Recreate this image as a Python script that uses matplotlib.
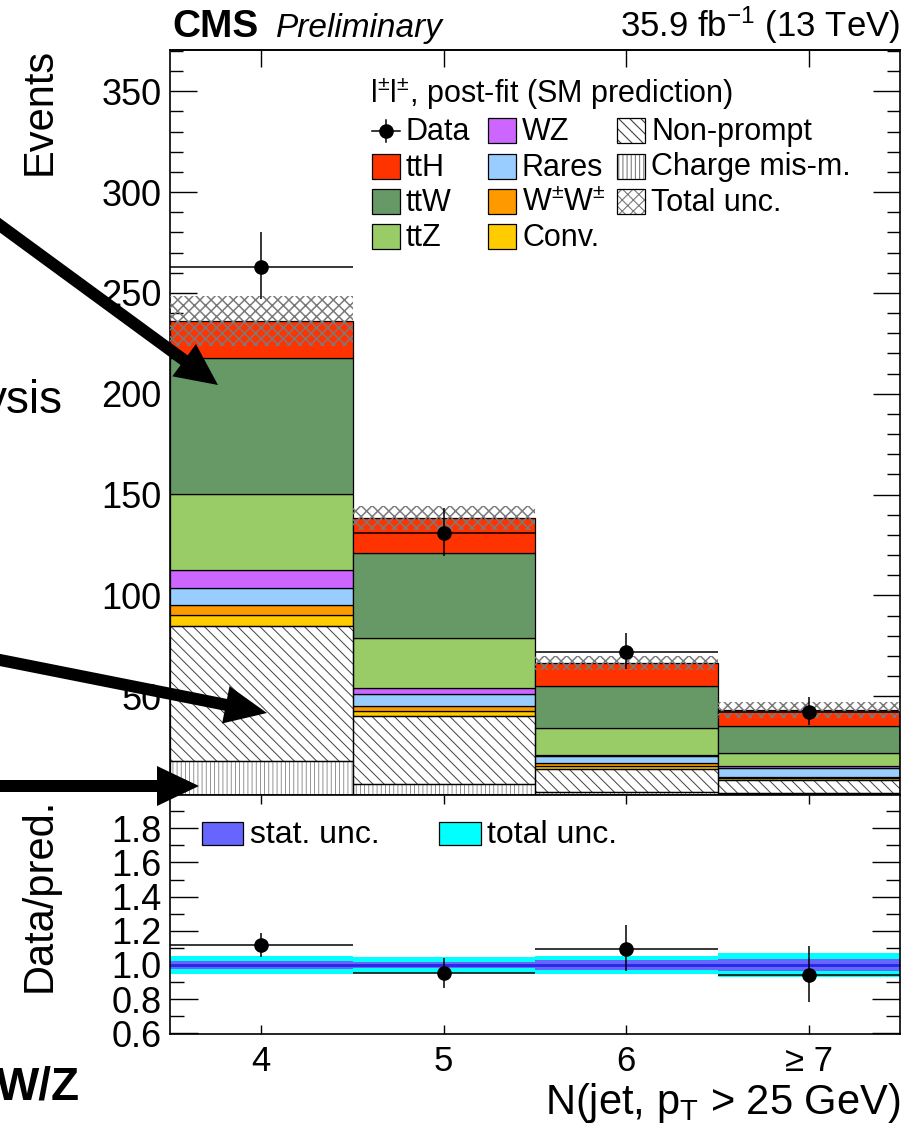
import numpy as np
import matplotlib
matplotlib.use('Agg')
import matplotlib.pyplot as plt
from matplotlib.patches import Polygon, Rectangle
from matplotlib.lines import Line2D
from matplotlib.ticker import MultipleLocator, NullLocator, FormatStrFormatter

plt.rcParams['font.family'] = ['Liberation Sans', 'DejaVu Sans']
plt.rcParams['mathtext.fontset'] = 'custom'
plt.rcParams['mathtext.rm'] = 'Liberation Sans'
plt.rcParams['mathtext.it'] = 'Liberation Sans:italic'
plt.rcParams['mathtext.bf'] = 'Liberation Sans:bold'
plt.rcParams['hatch.linewidth'] = 0.8

# ---------------- data ----------------
bin_edges = [3.5, 4.5, 5.5, 6.5, 7.5]
bin_centers = [4, 5, 6, 7]
tick_labels = ['4', '5', '6', '\u2265 7']

charge_misid = [18.1, 6.5, 2.7, 1.9]
nonprompt = [66.8, 33.7, 11.2, 6.6]
conv = [5.3, 2.7, 1.5, 0.9]
wpmwpm = [4.9, 2.4, 1.4, 0.7]
rares = [8.5, 5.7, 3.6, 4.5]
wz = [9.0, 3.0, 0.5, 0.6]
ttz = [37.6, 24.8, 13.5, 6.5]
ttw = [67.5, 42.1, 20.9, 13.6]
tth = [18.5, 17.4, 11.1, 7.9]
total_unc = [12.5, 5.8, 3.3, 3.8]

data = [263, 131, 72, 42]
data_err_up = [17.2, 12.5, 9.5, 7.5]
data_err_down = [16.2, 11.4, 8.5, 6.5]

ratio = [1.117, 0.951, 1.092, 0.939]
ratio_err_up = [0.073, 0.090, 0.143, 0.170]
ratio_err_down = [0.068, 0.083, 0.128, 0.155]
ratio_stat_unc = [0.022, 0.018, 0.027, 0.035]
ratio_total_unc = [0.054, 0.045, 0.050, 0.068]

# ---------------- figure ----------------
W, H = 917, 1133
fig = plt.figure(figsize=(W / 100, H / 100), dpi=100)


def fx(x):
    return x / W


def fy(y):
    return 1 - y / H


ax = fig.add_axes([fx(170), fy(795), fx(900) - fx(170), fy(50) - fy(795)])
axr = fig.add_axes([fx(170), fy(1034), fx(900) - fx(170), fy(795) - fy(1034)])

centers = np.array(bin_centers, float)
width = bin_edges[1] - bin_edges[0]


def set_hlw(patches, lw):
    for p in patches:
        try:
            p.set_hatch_linewidth(lw)
        except Exception:
            pass


# stack (bottom to top)
bottom = np.zeros(4)
# charge mis-ID (vertical hatch)
b = ax.bar(centers, charge_misid, width=width, bottom=bottom, color='white',
           hatch='||||', edgecolor='#808080', linewidth=0, zorder=2)
set_hlw(b, 0.6)
ax.bar(centers, charge_misid, width=width, bottom=bottom, fill=False,
       edgecolor='black', linewidth=0.9, zorder=2.1)
bottom += np.array(charge_misid)
# non-prompt (diagonal hatch)
b = ax.bar(centers, nonprompt, width=width, bottom=bottom, color='white',
           hatch='\\\\\\', edgecolor='#404040', linewidth=0, zorder=2)
set_hlw(b, 0.7)
ax.bar(centers, nonprompt, width=width, bottom=bottom, fill=False,
       edgecolor='black', linewidth=0.9, zorder=2.1)
bottom += np.array(nonprompt)

for vals, col in [(conv, '#ffcc00'), (wpmwpm, '#ff9900'), (rares, '#99ccff'),
                  (wz, '#cc66ff'), (ttz, '#99cc66'), (ttw, '#669966'),
                  (tth, '#ff3300')]:
    ax.bar(centers, vals, width=width, bottom=bottom, color=col,
           edgecolor='black', linewidth=0.9, zorder=2)
    bottom += np.array(vals)

total = bottom.copy()
unc = np.array(total_unc)
b = ax.bar(centers, 2 * unc, width=width, bottom=total - unc, color='none',
           hatch='xxx', edgecolor='#7a7a7a', linewidth=0, zorder=3)
set_hlw(b, 1.1)

ax.errorbar(centers, data, xerr=width / 2, yerr=[data_err_down, data_err_up],
            fmt='o', color='black', ms=9.5, elinewidth=1.1, capsize=0, zorder=5)

ax.set_xlim(bin_edges[0], bin_edges[-1])
ax.set_ylim(1.0, 370.5)
ax.yaxis.set_major_locator(MultipleLocator(50))
ax.yaxis.set_minor_locator(MultipleLocator(10))
ax.set_xticks(centers)
ax.xaxis.set_minor_locator(NullLocator())
ax.tick_params(axis='y', which='major', direction='in', left=True, right=True,
               length=19.4, width=1.0, labelsize=26, pad=6)
ax.tick_params(axis='y', which='minor', direction='in', left=True, right=True,
               length=9.4, width=1.0)
ax.tick_params(axis='x', which='major', direction='in', bottom=True, top=False,
               length=18.7, width=1.0, labelbottom=False)
sec = ax.secondary_xaxis('top')
sec.set_xticks(centers)
sec.xaxis.set_minor_locator(NullLocator())
sec.tick_params(axis='x', direction='in', length=12.2, width=1.0, labeltop=False)
for s in list(ax.spines.values()) + list(sec.spines.values()):
    s.set_linewidth(1.2)

# ---------------- ratio panel ----------------
rt = np.array(ratio_total_unc)
rs = np.array(ratio_stat_unc)
axr.bar(centers, 2 * rt, width=width, bottom=1 - rt, color='#00ffff', linewidth=0, zorder=2)
axr.bar(centers, 2 * rs, width=width, bottom=1 - rs, color='#6666ff', linewidth=0, zorder=2.1)
axr.hlines(1.0, bin_edges[0], bin_edges[-1], color='#2626e6', linewidth=2.0, zorder=2.2)
axr.errorbar(centers, ratio, xerr=width / 2, yerr=[ratio_err_down, ratio_err_up],
             fmt='o', color='black', ms=9.5, elinewidth=1.1, capsize=0, zorder=5)
axr.set_xlim(bin_edges[0], bin_edges[-1])
axr.set_ylim(0.596, 1.995)
axr.yaxis.set_major_locator(MultipleLocator(0.2))
axr.yaxis.set_minor_locator(MultipleLocator(0.1))
axr.yaxis.set_major_formatter(FormatStrFormatter('%.1f'))
axr.set_xticks(centers)
axr.set_xticklabels(tick_labels)
axr.xaxis.set_minor_locator(NullLocator())
axr.tick_params(axis='y', which='major', direction='in', left=True, right=True,
                length=20, width=1.0, labelsize=26, pad=6)
axr.tick_params(axis='y', which='minor', direction='in', left=True, right=True,
                length=10, width=1.0)
axr.tick_params(axis='x', which='major', direction='in', bottom=True, top=True,
                length=6.5, width=1.0, labelsize=25, pad=8)
for s in axr.spines.values():
    s.set_linewidth(1.2)

# ---------------- texts ----------------
fig.text(fx(172), fy(37), 'CMS', weight='bold', size=28, ha='left', va='baseline')
fig.text(fx(276), fy(37), 'Preliminary', style='italic', size=24, ha='left', va='baseline')
fig.text(fx(900), fy(37), r'35.9 fb$^{\mathrm{-1}}$ (13 TeV)', size=25, ha='right', va='baseline')

fig.text(fx(19.5), fy(48), 'Events', rotation=90, size=30, ha='left', va='top')
fig.text(fx(19.5), fy(798), 'Data/pred.', rotation=90, size=30, ha='left', va='top')
fig.text(fx(900), fy(1114), r'N(jet, p$_{\mathrm{T}}$ > 25 GeV)', size=30, ha='right', va='baseline')

# ---------------- legend (main) ----------------
fig.text(fx(370), fy(103), r'l$^{\pm}$l$^{\pm}$, post-fit (SM prediction)', size=22,
         ha='left', va='baseline')

row_c = [130.5, 166, 201.5, 236]
row_b = [140, 175.5, 211, 245.5]
col_box = [372, 488, 617]
col_txt = [406, 522, 651]
bw, bh = 27.5, 25

entries = [
    (0, 0, 'data', None, None, 'Data'),
    (0, 1, 'fill', '#ff3300', None, 'ttH'),
    (0, 2, 'fill', '#669966', None, 'ttW'),
    (0, 3, 'fill', '#99cc66', None, 'ttZ'),
    (1, 0, 'fill', '#cc66ff', None, 'WZ'),
    (1, 1, 'fill', '#99ccff', None, 'Rares'),
    (1, 2, 'fill', '#ff9900', None, r'W$^{\pm}$W$^{\pm}$'),
    (1, 3, 'fill', '#ffcc00', None, 'Conv.'),
    (2, 0, 'hatch', 'white', ('\\\\\\', '#404040'), 'Non-prompt'),
    (2, 1, 'hatch', 'white', ('||||', '#808080'), 'Charge mis-m.'),
    (2, 2, 'hatch', 'white', ('xxx', '#7a7a7a'), 'Total unc.'),
]
for c, r, kind, col, hat, label in entries:
    x0 = col_box[c]
    yc = row_c[r]
    if kind == 'data':
        fig.add_artist(Line2D([fx(x0), fx(x0 + bw)], [fy(yc), fy(yc)], color='black', lw=1.1))
        fig.add_artist(Line2D([fx(x0 + bw / 2)] * 2, [fy(yc - 11), fy(yc + 11)], color='black', lw=1.1))
        fig.add_artist(Line2D([fx(x0 + bw / 2)], [fy(yc)], marker='o', ms=9.5, color='black'))
    elif kind == 'fill':
        fig.add_artist(Rectangle((fx(x0), fy(yc + bh / 2)), fx(bw), bh / H,
                                 facecolor=col, edgecolor='black', lw=0.9,
                                 transform=fig.transFigure))
    else:
        p = Rectangle((fx(x0), fy(yc + bh / 2)), fx(bw), bh / H,
                      facecolor='white', edgecolor=hat[1], lw=0, hatch=hat[0],
                      transform=fig.transFigure)
        set_hlw([p], 0.8)
        fig.add_artist(p)
        fig.add_artist(Rectangle((fx(x0), fy(yc + bh / 2)), fx(bw), bh / H,
                                 fill=False, edgecolor='black', lw=0.9,
                                 transform=fig.transFigure))
    fig.text(fx(col_txt[c]), fy(row_b[r]), label, size=22, ha='left', va='baseline')

# ---------------- legend (ratio) ----------------
for x0, x1, col, label, tx in [(202, 243, '#6666ff', 'stat. unc.', 250),
                               (439, 481, '#00ffff', 'total unc.', 487)]:
    fig.add_artist(Rectangle((fx(x0), fy(845)), fx(x1 - x0), 23 / H,
                             facecolor=col, edgecolor='black', lw=0.9,
                             transform=fig.transFigure))
    fig.text(fx(tx), fy(843), label, size=23, ha='left', va='baseline')

# ---------------- overlay annotations (arrows / slide text) ----------------


def arrow_poly(x0, y0, x1, y1, w, hw, hl):
    d = np.array([x1 - x0, y1 - y0], float)
    u = d / np.hypot(*d)
    n = np.array([-u[1], u[0]])
    p0 = np.array([x0, y0], float)
    p1 = np.array([x1, y1], float)
    base = p1 - u * hl
    pts = [p0 + n * w / 2, base + n * w / 2, base + n * hw / 2, p1,
           base - n * hw / 2, base - n * w / 2, p0 - n * w / 2]
    return [(fx(x), fy(y)) for x, y in pts]


for a in [(-10, 218, 218, 385, 12, 40, 42),
          (-10, 658, 267, 713, 12, 38, 42),
          (-10, 786, 199, 786, 12, 40, 42)]:
    fig.add_artist(Polygon(arrow_poly(*a), closed=True, facecolor='black',
                           edgecolor='none', transform=fig.transFigure, zorder=10))

fig.text(fx(63), fy(413), 'ysis', size=33, ha='right', va='baseline')
fig.text(fx(80), fy(1100), 'W/Z', size=33, weight='bold', ha='right', va='baseline')

fig.savefig('out.png', dpi=100)
